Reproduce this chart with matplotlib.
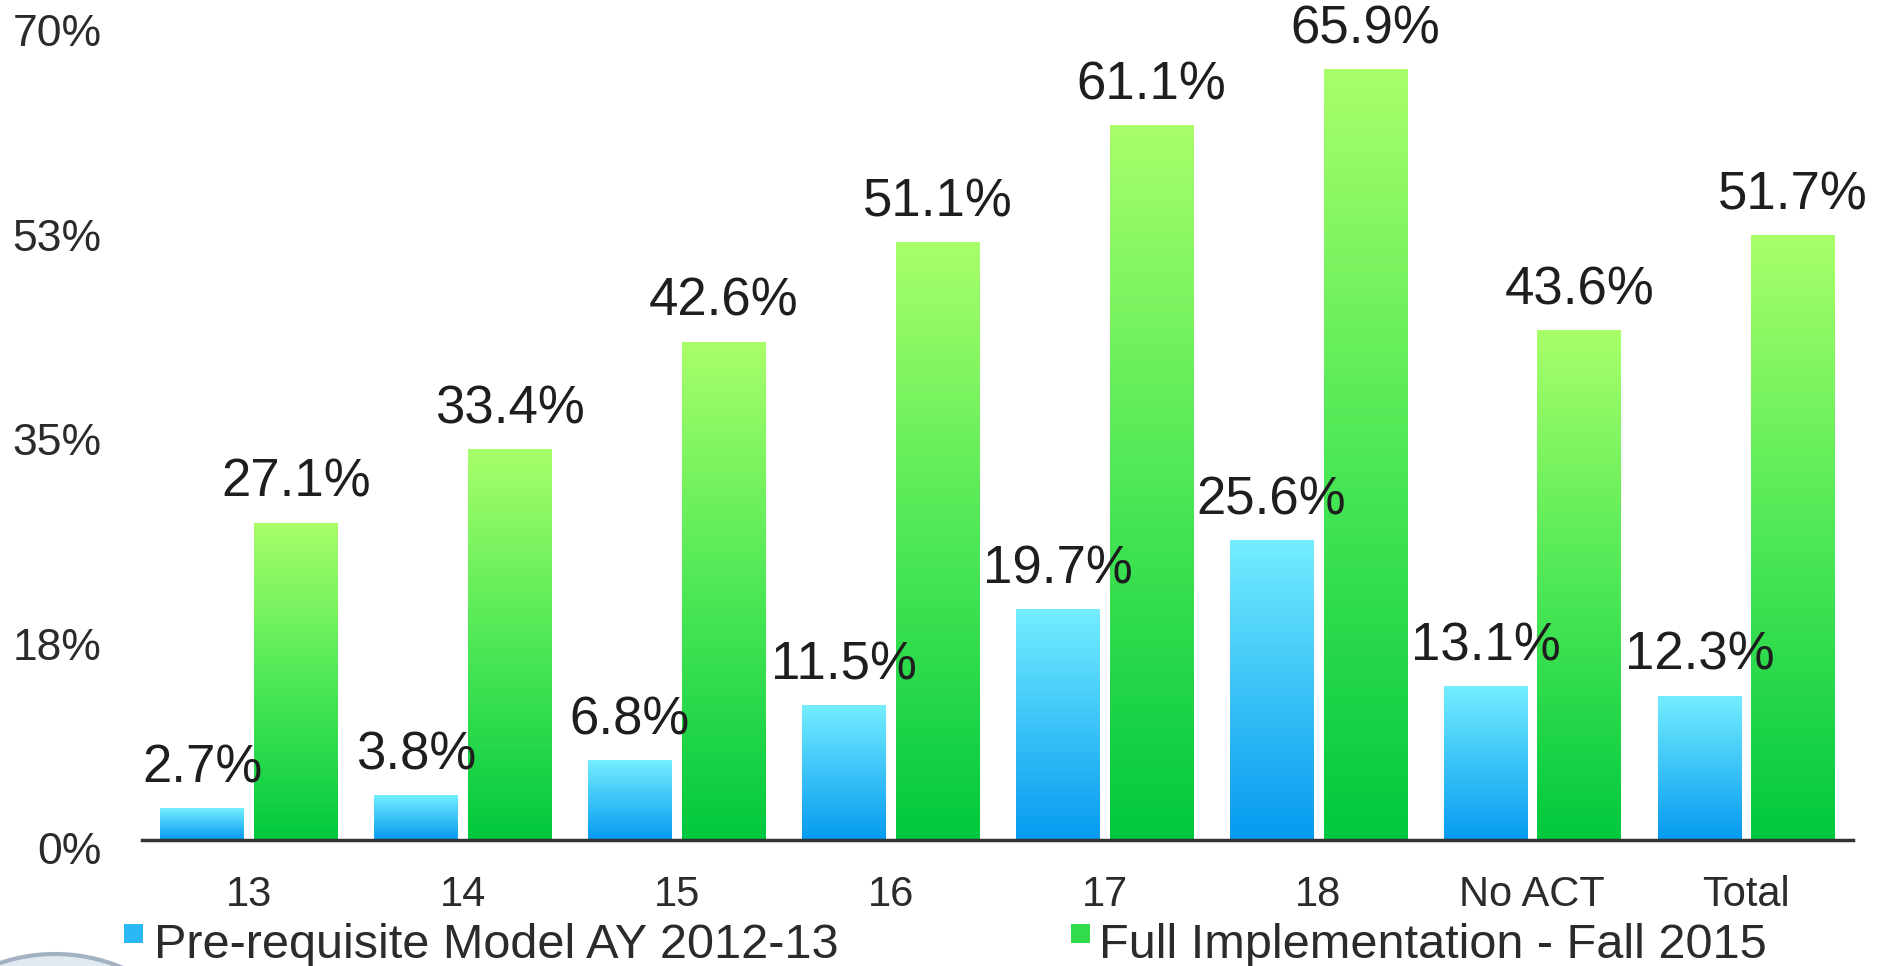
import numpy as np
import matplotlib.pyplot as plt
import matplotlib.transforms as mtransforms
from matplotlib.colors import LinearSegmentedColormap
from matplotlib.patches import Rectangle, Ellipse

# values
categories = ["13", "14", "15", "16", "17", "18", "No ACT", "Total"]
prereq_2012 = [2.7, 3.8, 6.8, 11.5, 19.7, 25.6, 13.1, 12.3]
full_2015 = [27.1, 33.4, 42.6, 51.1, 61.1, 65.9, 43.6, 51.7]
y_ticks = [0, 17.5, 35, 52.5, 70]
y_tick_labels = ["0%", "18%", "35%", "53%", "70%"]
series_names = ["Pre-requisite Model AY 2012-13", "Full Implementation - Fall 2015"]

plt.rcParams['font.family'] = ['Liberation Sans', 'DejaVu Sans']
TEXT = '#2b2b2b'

blue_cmap = LinearSegmentedColormap.from_list('blue', ['#069af0', '#3cc4f8', '#74eeff'])
green_cmap = LinearSegmentedColormap.from_list('green', ['#00c83e', '#4ee856', '#a8ff6a'])


def gradient_fill(ax, bars, cmap):
    """Replace flat bar faces with a vertical gradient clipped to each bar."""
    grad = np.linspace(0, 1, 256).reshape(-1, 1)
    for bar in bars:
        x0, y0 = bar.get_x(), bar.get_y()
        w, h = bar.get_width(), bar.get_height()
        ax.imshow(grad, cmap=cmap, aspect='auto', origin='lower',
                  extent=(x0, x0 + w, y0, y0 + h), zorder=2, interpolation='bicubic')
        bar.set_facecolor('none')
        bar.set_edgecolor('none')


fig = plt.figure(figsize=(18.89, 9.66), dpi=100)
ax = fig.add_axes([0.0752, 0.1304, 0.9058, 0.8468])

x = np.arange(len(categories))
width = 0.39
offset = 0.219

bars_blue = ax.bar(x - offset, prereq_2012, width, zorder=1)
bars_green = ax.bar(x + offset, full_2015, width, zorder=1)
gradient_fill(ax, bars_blue, blue_cmap)
gradient_fill(ax, bars_green, green_cmap)

for bars, vals in [(bars_blue, prereq_2012), (bars_green, full_2015)]:
    for bar, v in zip(bars, vals):
        ax.annotate(f"{v}%", (bar.get_x() + bar.get_width() / 2, v),
                    xytext=(0, 19), textcoords='offset points',
                    ha='center', va='baseline', fontsize=38, color='#1e1e1e',
                    zorder=5, annotation_clip=False)

ax.set_xlim(-0.5, 7.5)
ax.set_ylim(0, 70)
ax.set_xticks(x)
ax.set_xticklabels(categories)
ax.set_yticks(y_ticks)
ax.set_yticklabels(y_tick_labels)
ax.tick_params(axis='x', length=0, pad=25, labelsize=30, labelcolor=TEXT)
ax.tick_params(axis='y', length=0, pad=29, labelsize=32, labelcolor=TEXT)

# the y labels sit a few pixels below their gridline value in the original
shift = mtransforms.ScaledTranslation(0, -6 / 72, fig.dpi_scale_trans)
for lbl in ax.get_yticklabels():
    lbl.set_transform(lbl.get_transform() + shift)

for side in ['top', 'right', 'left']:
    ax.spines[side].set_visible(False)
ax.spines['bottom'].set_color('#333333')
ax.spines['bottom'].set_linewidth(2.5)
ax.spines['bottom'].set_zorder(3)

# legend drawn by hand so it sits where the original does
W, H = 1889, 966
fig.patches.append(Rectangle((124 / W, 23 / H), 19 / W, 19 / H, transform=fig.transFigure,
                             facecolor='#2bb8f4', edgecolor='none'))
fig.text(154 / W, 8 / H, series_names[0], fontsize=35, color=TEXT, va='baseline', ha='left')
fig.patches.append(Rectangle((1071 / W, 23 / H), 19 / W, 19 / H, transform=fig.transFigure,
                             facecolor='#30dc4c', edgecolor='none'))
fig.text(1099 / W, 8 / H, series_names[1], fontsize=35, color=TEXT, va='baseline', ha='left')

# edge of the seal in the lower left corner
fig.patches.append(Ellipse((55 / W, -160 / H), 2 * 172 / W, 2 * 172 / H,
                           transform=fig.transFigure,
                           facecolor='#e2eaf1', edgecolor='#a3b2c2', linewidth=3))

fig.savefig('out.png', dpi=100)
